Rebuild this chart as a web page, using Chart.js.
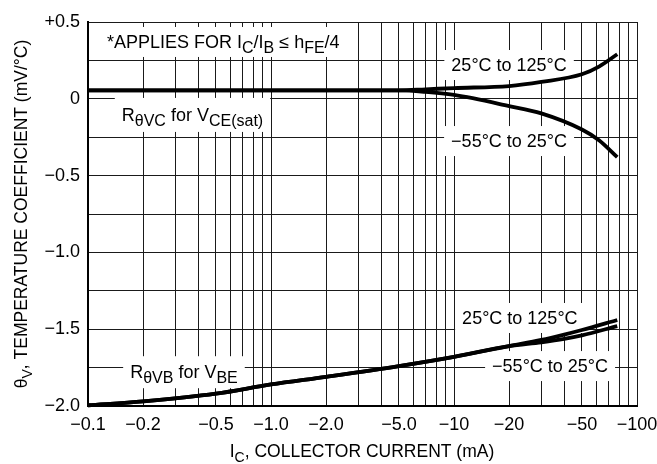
<!DOCTYPE html>
<html>
<head>
<meta charset="utf-8">
<script src="https://cdn.jsdelivr.net/npm/chart.js@4.4.0/dist/chart.umd.min.js"></script>
<style>
  html, body { margin: 0; background: #fff; }
</style>
</head>
<body>
<canvas id="chart" width="657" height="464"></canvas>
<script>
const FONT = "'Liberation Sans', Arial, Helvetica, sans-serif";

// collector current in mA (magnitude, the labels carry the minus sign)
const currentVc = [0.1, 1, 5, 7, 10, 20, 30, 50, 62, 78];
const vcHot = [0.055, 0.055, 0.055, 0.062, 0.07, 0.083, 0.11, 0.16, 0.21, 0.29];
const vcCold = [0.055, 0.055, 0.055, 0.045, 0.025, -0.047, -0.095, -0.2, -0.27, -0.38];

const currentVb = [0.1, 0.2, 0.5, 1, 2, 5, 10, 20, 30, 40, 50, 78];
const vbHot = [-1.995, -1.97, -1.92, -1.86, -1.81, -1.74, -1.68, -1.61, -1.57, -1.535, -1.505, -1.44];
const vbCold = [-1.995, -1.97, -1.92, -1.86, -1.81, -1.74, -1.68, -1.61, -1.585, -1.563, -1.54, -1.48];

const xGrid = [0.1, 0.2, 0.3, 0.4, 0.5, 0.6, 0.7, 0.8, 0.9, 1, 2, 3, 4, 5, 6, 7, 8, 9, 10,
  20, 30, 40, 50, 60, 70, 80, 90, 100];
const xLabelVals = [0.1, 0.2, 0.5, 1, 2, 5, 10, 20, 50, 100];
const xLabelText = ["−0.1", "−0.2", "−0.5", "−1.0", "−2.0", "−5.0", "−10", "−20", "−50", "−100"];
const yLabelVals = [0.5, 0, -0.5, -1, -1.5, -2];
const yLabelText = ["+0.5", "0", "−0.5", "−1.0", "−1.5", "−2.0"];

// text notes on the plot: [text, isSubscript]
const notes = [
  { x: 0.127, y: 0.37, align: "left", pad: 12,
    parts: [["*APPLIES FOR I"], ["C", 1], ["/I"], ["B", 1], [" ≤ h"], ["FE", 1], ["/4"]] },
  { x: 0.153, y: -0.105, align: "left", half: 17,
    parts: [["R"], ["θVC", 1], [" for "], ["V"], ["CE(sat)", 1]] },
  { x: 20, y: 0.22, align: "center", parts: [["25°C to 125°C"]] },
  { x: 20, y: -0.275, align: "center", parts: [["−55°C to 25°C"]] },
  { x: 22.9, y: -1.427, align: "center", parts: [["25°C to 125°C"]] },
  { x: 33.5, y: -1.74, align: "center", parts: [["−55°C to 25°C"]] },
  { x: 0.17, y: -1.78, align: "left", half: 16,
    parts: [["R"], ["θVB", 1], [" for "], ["V"], ["BE", 1]] },
];

function partsWidth(ctx, parts, size, subSize) {
  let w = 0;
  parts.forEach(p => {
    ctx.font = (p[1] ? subSize : size) + "px " + FONT;
    w += ctx.measureText(p[0]).width;
  });
  return w;
}

function drawParts(ctx, parts, x, base, size, subSize) {
  ctx.textAlign = "left";
  ctx.textBaseline = "alphabetic";
  parts.forEach(p => {
    ctx.font = (p[1] ? subSize : size) + "px " + FONT;
    ctx.fillText(p[0], x, p[1] ? base + 5 : base);
    x += ctx.measureText(p[0]).width;
  });
}

const notesPlugin = {
  id: "notes",
  beforeDatasetsDraw(chart) {
    const ctx = chart.ctx;
    const xs = chart.scales.x, ys = chart.scales.y;
    ctx.save();
    notes.forEach(n => {
      const w = partsWidth(ctx, n.parts, 18, 16);
      const px = xs.getPixelForValue(n.x);
      const py = ys.getPixelForValue(n.y);
      const left = n.align === "center" ? px - w / 2 : px;
      const pad = n.pad || 7;
      const half = n.half || 15;
      ctx.fillStyle = "#fff";
      ctx.fillRect(left - pad, py - half, w + pad + 7, half * 2);
      ctx.fillStyle = "#000";
      drawParts(ctx, n.parts, left, py + 6, 18, 16);
    });
    ctx.restore();
  },
  afterDraw(chart) {
    const ctx = chart.ctx;
    ctx.save();
    ctx.fillStyle = "#000";
    // x axis title
    const xt = [["I"], ["C", 1], [", COLLECTOR CURRENT (mA)"]];
    const xw = partsWidth(ctx, xt, 17.5, 14);
    drawParts(ctx, xt, 362 - xw / 2, 457, 17.5, 14);
    // y axis title
    const yt = [["θ"], ["V", 1], [", TEMPERATURE COEFFICIENT (mV/°C)"]];
    const yw = partsWidth(ctx, yt, 17.5, 14);
    ctx.translate(27, 214);
    ctx.rotate(-Math.PI / 2);
    drawParts(ctx, yt, -yw / 2, 0, 17.5, 14);
    ctx.restore();
  }
};

const line = (xs, ys) => ({
  data: xs.map((x, i) => ({ x: x, y: ys[i] })),
  clip: false,
});

new Chart(document.getElementById("chart"), {
  type: "line",
  data: {
    datasets: [
      line(currentVc, vcHot),
      line(currentVc, vcCold),
      line(currentVb, vbHot),
      line(currentVb, vbCold),
    ],
  },
  options: {
    responsive: false,
    animation: false,
    devicePixelRatio: 1,
    layout: { padding: { top: 22, right: 0, left: 0, bottom: 0 } },
    plugins: {
      legend: { display: false },
      tooltip: { enabled: false },
    },
    elements: {
      point: { radius: 0 },
      line: {
        borderColor: "#000",
        borderWidth: 3.8,
        cubicInterpolationMode: "monotone",
        fill: false,
      },
    },
    scales: {
      x: {
        type: "logarithmic",
        min: 0.1,
        max: 100,
        afterBuildTicks: (s) => { s.ticks = xGrid.map(v => ({ value: v })); },
        afterFit: (s) => {
          s.height = 58;
          s.paddingLeft = 0;
          s.paddingRight = 20;
        },
        grid: { color: "#1a1a1a", lineWidth: 1, drawTicks: false },
        border: { color: "#000", width: 2 },
        ticks: {
          autoSkip: false,
          maxRotation: 0,
          padding: 8,
          color: "#000",
          font: { family: FONT, size: 18 },
          callback: (v) => {
            const i = xLabelVals.indexOf(v);
            return i < 0 ? "" : xLabelText[i];
          },
        },
      },
      y: {
        min: -2,
        max: 0.5,
        afterFit: (s) => { s.width = 88; },
        grid: { color: "#1a1a1a", lineWidth: 1, drawTicks: false },
        border: { color: "#000", width: 2 },
        ticks: {
          stepSize: 0.25,
          autoSkip: false,
          padding: 8,
          color: "#000",
          font: { family: FONT, size: 18 },
          callback: (v) => {
            const i = yLabelVals.indexOf(v);
            return i < 0 ? "" : yLabelText[i];
          },
        },
      },
    },
  },
  plugins: [notesPlugin],
});
</script>
</body>
</html>
